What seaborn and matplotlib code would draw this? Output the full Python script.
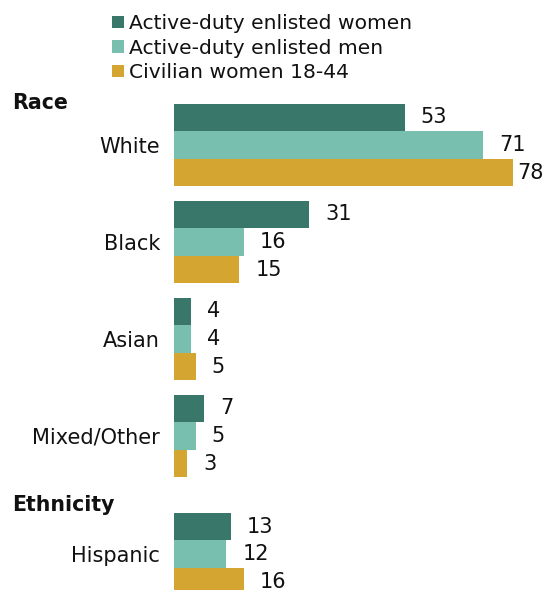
import matplotlib
matplotlib.use("Agg")
import matplotlib.pyplot as plt
import numpy as np
import pandas as pd
import seaborn as sns

categories = ["White", "Black", "Asian", "Mixed/Other", "Hispanic"]
positions = [0, 1, 2, 3, 4.22]
series = ["Active-duty enlisted women", "Active-duty enlisted men", "Civilian women 18-44"]
women = [53, 31, 4, 7, 13]
men = [71, 16, 4, 5, 12]
civilian = [78, 15, 5, 3, 16]
colors = ["#38776A", "#78BFB0", "#D4A631"]

rows = []
for name, vals in zip(series, [women, men, civilian]):
    for c, p, v in zip(categories, positions, vals):
        rows.append({"category": c, "pos": p, "series": name, "value": v})
df = pd.DataFrame(rows)

sns.set_style("white")
plt.rcParams["font.family"] = ["DejaVu Sans"]
fs = 15
txt = "#111111"

fig = plt.figure(figsize=(5.45, 5.9), dpi=100)
ax = fig.add_axes([174 / 545, 0, 1 - 174 / 545, 1])

sns.barplot(data=df, x="value", y="pos", hue="series", hue_order=series,
            palette=colors, saturation=1, orient="h", native_scale=True,
            width=0.855, linewidth=0, ax=ax)

ax.set_xlim(0, 371 / 4.35)
ax.set_ylim(4.588, -1.495)
ax.set_yticks(positions)
ax.set_yticklabels(categories, fontsize=fs, color=txt)
ax.tick_params(axis="y", length=0, pad=10)
ax.set_xticks([])
ax.set_xlabel("")
ax.set_ylabel("")
for s in ax.spines.values():
    s.set_visible(False)

# value labels
for bars in ax.containers:
    for b in bars:
        v = b.get_width()
        y = b.get_y() + b.get_height() / 2
        x = min(v + 3.7, 78.85)
        ax.text(x, y, f"{v:.0f}", va="center", ha="left", fontsize=fs, color=txt)

sns.move_legend(ax, "upper left", bbox_to_anchor=(102 / 545, 1 - 4 / 590),
                bbox_transform=fig.transFigure, title=None, frameon=False,
                fontsize=14.6, handlelength=0.6, handleheight=0.6,
                handletextpad=0.25, labelspacing=0.27, borderpad=0)
for t in ax.get_legend().get_texts():
    t.set_color(txt)

fig.text(12 / 545, 1 - 103 / 590, "Race", fontsize=14.8, fontweight="bold", va="center", color=txt)
fig.text(12 / 545, 1 - 505 / 590, "Ethnicity", fontsize=14.8, fontweight="bold", va="center", color=txt)

fig.savefig("out.png", dpi=100)
